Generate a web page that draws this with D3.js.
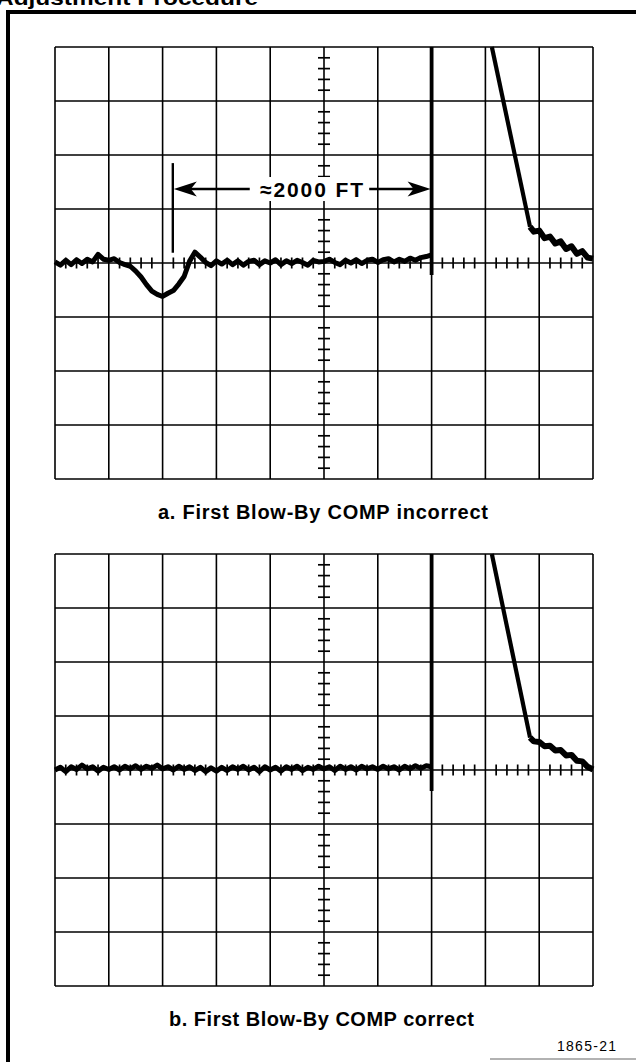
<!DOCTYPE html>
<html>
<head>
<meta charset="utf-8">
<script src="https://cdn.jsdelivr.net/npm/d3@7"></script>
<style>
  body { margin: 0; background: #fff; }
  svg { display: block; }
  text { font-family: "Liberation Sans", Arial, Helvetica, sans-serif; fill: #000; }
</style>
</head>
<body>
<div id="viz"></div>
<script>
// scope graticule, in divisions
var xDivs = [0, 1, 2, 3, 4, 5, 6, 7, 8, 9, 10],
    yDivs = [-4, -3, -2, -1, 0, 1, 2, 3, 4];
var minorStep = 0.2;

// trace samples, one every 0.1 div from 0 to 7
var sampleStep = 0.1;
var traceA = [0.02, -0.04, 0.05, -0.03, 0.06, -0.01, 0.07, 0.02, 0.16, 0.07,
              0.05, 0.08, 0.01, -0.03, -0.06, -0.15, -0.26, -0.40, -0.52, -0.58,
              -0.62, -0.56, -0.51, -0.39, -0.25, 0.03, 0.20, 0.11, 0.01, -0.05,
              0.04, -0.02, 0.05, -0.03, 0.04, -0.04, 0.03, 0.05, -0.03, 0.04,
              0.00, 0.06, -0.03, 0.04, -0.01, 0.05, 0.01, -0.04, 0.05, 0.02,
              0.03, 0.07, 0.01, -0.03, 0.05, 0.00, 0.06, -0.01, 0.05, 0.07,
              0.01, 0.06, 0.08, 0.02, 0.07, 0.03, 0.09, 0.05, 0.10, 0.12, 0.15];
var traceB = [0.00, 0.05, -0.03, 0.06, 0.01, 0.09, 0.02, 0.06, -0.02, 0.05,
              0.01, 0.06, 0.00, 0.07, 0.02, 0.08, 0.01, 0.07, 0.03, 0.09,
              0.02, 0.06, 0.00, 0.07, 0.01, 0.06, -0.01, 0.05, -0.03, 0.04,
              -0.02, 0.05, -0.01, 0.06, 0.01, 0.07, 0.00, 0.05, -0.03, 0.06,
              0.00, 0.05, -0.02, 0.06, 0.01, 0.07, -0.01, 0.05, 0.01, 0.07,
              0.02, 0.06, -0.01, 0.07, 0.01, 0.06, 0.00, 0.07, 0.02, 0.06,
              0.01, 0.07, 0.02, 0.06, 0.00, 0.07, 0.02, 0.08, 0.03, 0.08, 0.06];

// vertical step at 7 div
var stepX = 7, stepTop = 4,
    stepBottomA = -0.22, stepBottomB = -0.39;

// steep fall, then noisy decay tail
var fallX  = [8.12, 8.83];
var fallAY = [4.0, 0.67];
var fallBY = [4.0, 0.60];
var tailX  = [8.83, 8.9, 9.0, 9.1, 9.2, 9.3, 9.4, 9.5, 9.6, 9.7, 9.8, 9.9, 10.0];
var tailAY = [0.67, 0.58, 0.60, 0.46, 0.49, 0.36, 0.40, 0.26, 0.31, 0.17, 0.22, 0.10, 0.08];
var tailBY = [0.60, 0.53, 0.52, 0.44, 0.45, 0.36, 0.37, 0.27, 0.28, 0.17, 0.16, 0.06, 0.01];

// distance annotation (panel a)
var markerX = 2.19, markerTop = 1.85, markerBottom = 0.19;
var arrowY = 1.37, leftArrowEnd = 3.62, rightArrowStart = 5.84, rightArrowEnd = 7.0;
var labelX = 3.81, labelText = '\u22482000 FT';

var captions = ['a. First Blow-By COMP incorrect', 'b. First Blow-By COMP correct'];
var figNumber = '1865-21',
    pageTitle = 'Adjustment Procedure';

var width = 636, height = 1062;
var gridLeft = 55, gridRight = 593, divH = 54,
    panelTops = [47, 554];

var svg = d3.select('#viz').append('svg')
  .attr('width', width)
  .attr('height', height);

// page furniture (title is cropped at the top edge in the source page)
svg.append('text')
  .attr('x', -4).attr('y', 5)
  .attr('font-size', 20).attr('font-weight', 'bold')
  .attr('textLength', 262).attr('lengthAdjust', 'spacingAndGlyphs')
  .text(pageTitle);
svg.append('path')
  .attr('d', 'M8,1062 L8,12 L636,12')
  .attr('fill', 'none').attr('stroke', '#000').attr('stroke-width', 4);
svg.append('line')
  .attr('x1', 490).attr('x2', 636).attr('y1', 1059).attr('y2', 1059)
  .attr('stroke', '#999').attr('stroke-width', 1.5);

var xScale = d3.scaleLinear().domain([0, 10]).range([gridLeft, gridRight]);

var line = d3.line().x(function(d) { return xScale(d[0]); });

function drawPanel(top, trace, stepBottom, fallY, tailY, caption, captionX, captionW, captionY) {
  var yScale = d3.scaleLinear().domain([-4, 4]).range([top + 8 * divH, top]);
  line.y(function(d) { return yScale(d[1]); });

  var g = svg.append('g');

  // graticule
  g.selectAll('.vx').data(xDivs).enter().append('line')
    .attr('x1', xScale).attr('x2', xScale)
    .attr('y1', yScale(-4)).attr('y2', yScale(4))
    .attr('stroke', '#000').attr('stroke-width', 1.6);
  g.selectAll('.hy').data(yDivs).enter().append('line')
    .attr('x1', xScale(0)).attr('x2', xScale(10))
    .attr('y1', yScale).attr('y2', yScale)
    .attr('stroke', '#000').attr('stroke-width', 1.6);

  var minorX = d3.range(0, 10.001, minorStep).filter(function(v) { return Math.abs(v - Math.round(v)) > 0.01; });
  var minorY = d3.range(-4, 4.001, minorStep).filter(function(v) { return Math.abs(v - Math.round(v)) > 0.01; });
  g.selectAll('.mx').data(minorX).enter().append('line')
    .attr('x1', xScale).attr('x2', xScale)
    .attr('y1', yScale(0) - 5.5).attr('y2', yScale(0) + 5.5)
    .attr('stroke', '#000').attr('stroke-width', 1.7);
  g.selectAll('.my').data(minorY).enter().append('line')
    .attr('x1', xScale(5) - 6).attr('x2', xScale(5) + 6)
    .attr('y1', yScale).attr('y2', yScale)
    .attr('stroke', '#000').attr('stroke-width', 1.7);

  // trace
  var pts = trace.map(function(v, i) { return [i * sampleStep, v]; });
  g.append('path').datum(pts)
    .attr('d', line)
    .attr('fill', 'none').attr('stroke', '#000')
    .attr('stroke-width', 5).attr('stroke-linejoin', 'round');

  g.append('path').datum([[stepX, stepTop], [stepX, stepBottom]])
    .attr('d', line)
    .attr('stroke', '#000').attr('stroke-width', 3.8);

  g.append('path').datum(fallX.map(function(x, i) { return [x, fallY[i]]; }))
    .attr('d', line)
    .attr('stroke', '#000').attr('stroke-width', 4.2);

  g.append('path').datum(tailX.map(function(x, i) { return [x, tailY[i]]; }))
    .attr('d', line)
    .attr('fill', 'none').attr('stroke', '#000')
    .attr('stroke-width', 6).attr('stroke-linejoin', 'round');

  svg.append('text')
    .attr('x', captionX).attr('y', captionY)
    .attr('font-size', 20).attr('font-weight', 'bold')
    .attr('textLength', captionW).attr('lengthAdjust', 'spacing')
    .text(caption);

  return { g: g, yScale: yScale };
}

var pa = drawPanel(panelTops[0], traceA, stepBottomA, fallAY, tailAY, captions[0], 158, 330, 519);
drawPanel(panelTops[1], traceB, stepBottomB, fallBY, tailBY, captions[1], 169, 305, 1026);

// annotation on panel a
var ya = pa.yScale;
var ann = svg.append('g');
var label = ann.append('text')
  .attr('x', xScale(labelX)).attr('y', ya(arrowY) + 7.5)
  .attr('font-size', 21).attr('font-weight', 'bold')
  .attr('textLength', 103).attr('lengthAdjust', 'spacing')
  .text(labelText);
var bb = label.node().getBBox();
ann.insert('rect', 'text')
  .attr('x', bb.x - 4).attr('y', ya(arrowY) - 12)
  .attr('width', bb.width + 8).attr('height', 24)
  .attr('fill', '#fff');

ann.append('line')
  .attr('x1', xScale(markerX)).attr('x2', xScale(markerX))
  .attr('y1', ya(markerTop)).attr('y2', ya(markerBottom))
  .attr('stroke', '#000').attr('stroke-width', 2.4);

ann.append('line')
  .attr('x1', xScale(markerX) + 10).attr('x2', xScale(leftArrowEnd))
  .attr('y1', ya(arrowY)).attr('y2', ya(arrowY))
  .attr('stroke', '#000').attr('stroke-width', 2.4);
ann.append('line')
  .attr('x1', xScale(rightArrowStart)).attr('x2', xScale(rightArrowEnd) - 10)
  .attr('y1', ya(arrowY)).attr('y2', ya(arrowY))
  .attr('stroke', '#000').attr('stroke-width', 2.4);

var head = 'M0,0 L23,-7.5 L17,0 L23,7.5 Z';
ann.append('path')
  .attr('d', head)
  .attr('transform', 'translate(' + (xScale(markerX) + 1) + ',' + ya(arrowY) + ')');
ann.append('path')
  .attr('d', head)
  .attr('transform', 'translate(' + (xScale(rightArrowEnd) - 1) + ',' + ya(arrowY) + ') scale(-1,1)');

svg.append('text')
  .attr('x', 557).attr('y', 1051)
  .attr('font-size', 14)
  .attr('textLength', 59).attr('lengthAdjust', 'spacing')
  .text(figNumber);
</script>
</body>
</html>
